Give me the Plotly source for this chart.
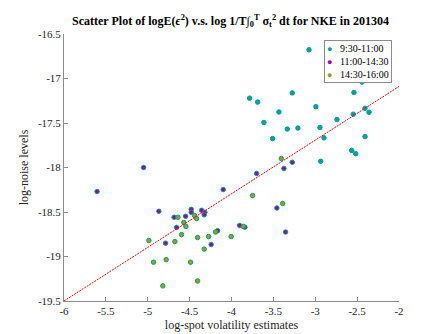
import plotly.graph_objects as go

# 9:30-11:00
x_morning = [-3.075, -2.442, -2.538, -3.275, -3.784, -3.688, -2.992, -3.434, -2.406, -2.358, -2.546,
             -3.613, -2.741, -3.334, -3.207, -2.944, -2.896, -3.509, -2.406, -2.565, -2.517, -2.935]
y_morning = [-16.677, -17.040, -17.157, -17.162, -17.221, -17.265, -17.317, -17.376, -17.335, -17.379, -17.401,
             -17.494, -17.461, -17.568, -17.557, -17.550, -17.667, -17.675, -17.653, -17.808, -17.845, -17.930]

# 11:00-14:30
x_midday = [-5.050, -5.605, -4.099, -4.867, -4.481, -4.481, -4.357, -4.318, -4.326, -4.685, -4.548,
            -4.656, -4.787, -4.243, -4.166, -3.275, -3.374, -3.700, -3.458, -3.903, -3.840, -3.354]
y_midday = [-18.000, -18.270, -18.248, -18.492, -18.470, -18.503, -18.481, -18.503, -18.532, -18.559, -18.548,
            -18.673, -18.850, -18.865, -18.710, -17.941, -18.011, -18.067, -18.455, -18.651, -18.670, -18.725]

# 14:30-16:00
x_close = [-4.640, -4.441, -4.417, -4.569, -4.545, -4.596, -4.987, -4.676, -4.405, -4.274, -4.190,
           -4.004, -4.326, -4.931, -4.780, -4.489, -4.405, -4.820, -3.406, -3.748, -3.389, -3.860]
y_close = [-18.559, -18.540, -18.573, -18.618, -18.662, -18.754, -18.820, -18.832, -18.787, -18.776, -18.725,
           -18.776, -18.917, -19.064, -19.035, -19.064, -19.275, -19.330, -17.900, -18.315, -18.404, -18.662]

# reference line
line_x = [-6, -2]
line_y = [-19.5, -17.09]

x_ticks = [-6, -5.5, -5, -4.5, -4, -3.5, -3, -2.5, -2]
x_tick_labels = ["-6", "-5.5", "-5", "-4.5", "-4", "-3.5", "-3", "-2.5", "-2"]
y_ticks = [-19.5, -19, -18.5, -18, -17.5, -17, -16.5]
y_tick_labels = ["-19.5", "-19", "-18.5", "-18", "-17.5", "-17", "-16.5"]

EDGE = "#00a0a0"
FONT = "Liberation Serif"

series = [
    ("9:30-11:00", x_morning, y_morning, "#00a0a0"),
    ("11:00-14:30", x_midday, y_midday, "#a000a0"),
    ("14:30-16:00", x_close, y_close, "#a0a000"),
]

fig = go.Figure()

for name, xs, ys, face in series:
    fig.add_trace(
        go.Scatter(
            x=xs,
            y=ys,
            mode="markers",
            name=name,
            showlegend=False,
            marker=dict(size=4.5, color=face, line=dict(color=EDGE, width=1)),
        )
    )

fig.add_trace(
    go.Scatter(
        x=line_x,
        y=line_y,
        mode="lines",
        line=dict(color="red", width=1, dash="2px,1px"),
        showlegend=False,
    )
)

# compact boxed legend (matlab style)
legend_lines = [
    f"<span style='color:{face};font-size:9px'>●</span>   {name}" for name, _, _, face in series
]
fig.add_annotation(
    xref="paper",
    yref="paper",
    x=0.98,
    y=0.977,
    xanchor="right",
    yanchor="top",
    align="left",
    text="<br>".join(legend_lines),
    showarrow=False,
    font=dict(family=FONT, size=10, color="black"),
    bordercolor="#8c8c8c",
    borderwidth=1,
    borderpad=2,
    bgcolor="white",
)

title = ("Scatter Plot of logE(<i>ϵ</i><sup>2</sup>) v.s. log 1/T∫<sub>0</sub><sup>T</sup> "
         "σ<sub>t</sub><sup>2</sup> dt for NKE in 201304")

axis_common = dict(
    showline=True,
    linecolor="#8c8c8c",
    linewidth=1,
    ticks="inside",
    ticklen=4,
    tickcolor="#8c8c8c",
    showgrid=False,
    zeroline=False,
    tickfont=dict(family=FONT, size=11, color="#262626"),
    mirror=False,
)

fig.update_layout(
    width=432,
    height=334,
    paper_bgcolor="white",
    plot_bgcolor="white",
    showlegend=False,
    margin=dict(l=56, r=41, t=26, b=37),
    title=dict(
        text="<b>" + title + "</b>",
        font=dict(family=FONT, size=12, color="black"),
        x=0.515,
        xanchor="center",
        y=0.975,
        yanchor="top",
    ),
    xaxis=dict(
        range=[-6, -2],
        tickvals=x_ticks,
        ticktext=x_tick_labels,
        title=dict(text="log-spot volatility estimates", font=dict(family=FONT, size=12, color="#262626"), standoff=4),
        **axis_common,
    ),
    yaxis=dict(
        range=[-19.5, -16.5],
        tickvals=y_ticks,
        ticktext=y_tick_labels,
        title=dict(text="log-noise levels", font=dict(family=FONT, size=12, color="#262626"), standoff=6),
        **axis_common,
    ),
)

fig.write_html("out.html")
